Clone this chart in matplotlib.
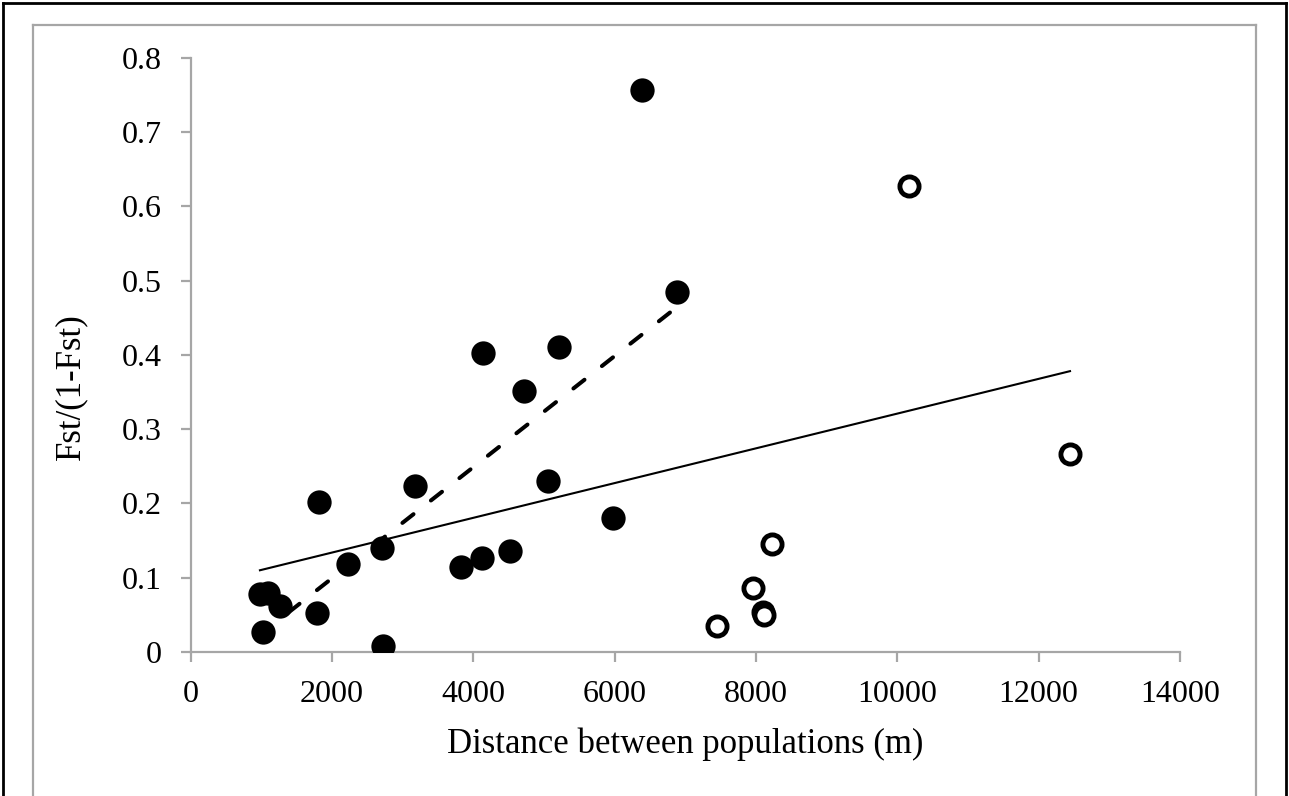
import matplotlib
matplotlib.use("Agg")
import matplotlib.pyplot as plt
from matplotlib.lines import Line2D

# ---- data ----
filled_x = [980, 1100, 1264, 1028, 1783, 1820, 2231, 2703, 2726, 3175,
            3821, 4128, 4142, 4520, 4722, 5062, 5218, 5982, 6383, 6879]
filled_y = [0.078, 0.079, 0.062, 0.027, 0.053, 0.202, 0.119, 0.140, 0.008, 0.223,
            0.115, 0.127, 0.402, 0.136, 0.351, 0.230, 0.410, 0.181, 0.756, 0.484]
open_x = [7445, 7963, 8095, 8118, 8224, 10167, 12446]
open_y = [0.035, 0.086, 0.054, 0.050, 0.145, 0.627, 0.267]

trend_all_x = [980, 12446]
trend_all_y = [0.110, 0.378]
trend_filled_x = [980, 6879]
trend_filled_y = [0.023, 0.464]

xticks = [0, 2000, 4000, 6000, 8000, 10000, 12000, 14000]
yticks = [0, 0.1, 0.2, 0.3, 0.4, 0.5, 0.6, 0.7, 0.8]
ytick_labels = ["0", "0.1", "0.2", "0.3", "0.4", "0.5", "0.6", "0.7", "0.8"]

plt.rcParams['font.family'] = ['Liberation Serif', 'DejaVu Serif']

W, H = 1289, 796
fig = plt.figure(figsize=(W / 100, H / 100), dpi=100)
ax = fig.add_axes([190.7 / W, 1 - 652 / H, (1179.8 - 190.7) / W, (652 - 57.6) / H])

gray = '#A6A6A6'
# borders
def fline(x0, y0, x1, y1, color, lw):
    fig.add_artist(Line2D([x0 / W, x1 / W], [1 - y0 / H, 1 - y1 / H],
                          transform=fig.transFigure, color=color, lw=lw,
                          solid_capstyle='projecting'))

fline(33, 25, 1256, 25, gray, 1.6)
fline(33, 25, 33, 796, gray, 1.6)
fline(1256, 25, 1256, 796, gray, 1.6)
fline(3, 3, 1286, 3, 'black', 2.0)
fline(3, 3, 3, 796, 'black', 2.0)
fline(1286, 3, 1286, 796, 'black', 2.0)

# trendlines
ax.plot(trend_all_x, trend_all_y, color='black', lw=1.5, zorder=2)
ax.plot(trend_filled_x, trend_filled_y, color='black', lw=2.9,
        dashes=(3.5, 5.5), dash_capstyle='round', zorder=2)

# points
ax.plot(filled_x, filled_y, 'o', color='black', ms=17.5, mew=0, zorder=3,
        linestyle='none')
ax.plot(open_x, open_y, 'o', mfc='white', mec='black', ms=13.8, mew=3.5,
        zorder=3, linestyle='none')

ax.set_xlim(0, 14000)
ax.set_ylim(0, 0.8)
ax.set_xticks(xticks)
ax.set_xticklabels([str(v) for v in xticks])
ax.set_yticks(yticks)
ax.set_yticklabels(ytick_labels)

for s in ['top', 'right']:
    ax.spines[s].set_visible(False)
for s in ['left', 'bottom']:
    ax.spines[s].set_color(gray)
    ax.spines[s].set_linewidth(1.6)
ax.tick_params(axis='both', direction='out', length=7.2, width=1.6,
               color=gray, labelsize=23, labelcolor='black')
ax.tick_params(axis='x', pad=13)
ax.tick_params(axis='y', pad=14)

ax.set_xlabel('Distance between populations (m)', fontsize=25, va='center')
ax.xaxis.set_label_coords(0.5, (652 - 744) / (652 - 57.6))
ax.set_ylabel('Fst/(1-Fst)', fontsize=25, va='center')
ax.yaxis.set_label_coords((71 - 190.7) / (1179.8 - 190.7), (652 - 387) / (652 - 57.6))

fig.savefig('out.png', dpi=100)
